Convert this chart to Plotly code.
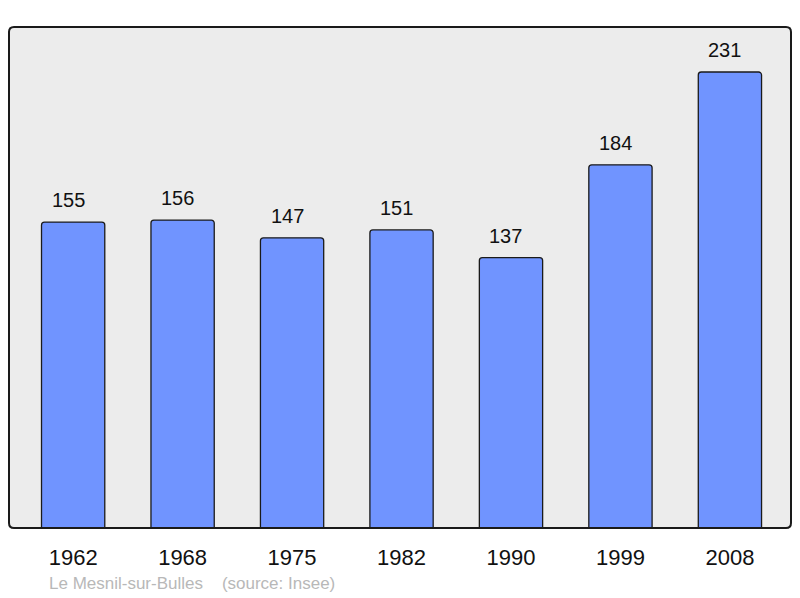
import plotly.graph_objects as go

years = ["1962", "1968", "1975", "1982", "1990", "1999", "2008"]
population = [155, 156, 147, 151, 137, 184, 231]
source_text = "Le Mesnil-sur-Bulles&nbsp;&nbsp;&nbsp;&nbsp;(source: Insee)"

FONT = "Liberation Sans, Arial, sans-serif"

fig = go.Figure()
fig.add_trace(go.Bar(
    x=years, y=population,
    width=0.578,
    marker=dict(color="#7094FF", line=dict(color="#1a1a1a", width=1.3), cornerradius=3),
    hoverinfo="skip",
))

for i, v in enumerate(population):
    fig.add_annotation(x=i, y=v, text=str(v), showarrow=False,
                       yanchor="middle", yshift=22, xshift=-5,
                       font=dict(family=FONT, size=20, color="#111111"))

fig.add_annotation(xref="paper", yref="paper", x=(47 - 9) / 782, y=-(583 - 528) / 501,
                   xanchor="left", yanchor="middle", showarrow=False,
                   text=source_text, font=dict(family=FONT, size=17, color="#b8b8b8"))

# rounded frame around plotting area (paper coordinates)
rx, ry = 5 / 782, 5 / 501
path = (f"M {rx},0 L {1-rx},0 Q 1,0 1,{ry} L 1,{1-ry} Q 1,1 {1-rx},1 "
        f"L {rx},1 Q 0,1 0,{1-ry} L 0,{ry} Q 0,0 {rx},0 Z")
fig.add_shape(type="path", xref="paper", yref="paper", path=path,
              line=dict(color="#1a1a1a", width=2), layer="above")

fig.update_layout(
    width=800, height=598,
    margin=dict(l=9, r=9, t=27, b=70),
    paper_bgcolor="white", plot_bgcolor="#ECECEC",
    showlegend=False,
    xaxis=dict(type="category", range=[-0.586, 6.558], showgrid=False, zeroline=False,
               ticks="", ticklabelstandoff=14,
               tickfont=dict(family=FONT, size=22, color="#111111"), fixedrange=True),
    yaxis=dict(range=[0, 253.8], showgrid=False, zeroline=False, showticklabels=False,
               ticks="", fixedrange=True),
)

fig.write_html("out.html", config={"displayModeBar": False},
               post_script="document.body.style.margin='0px';document.body.style.padding='0px';")
